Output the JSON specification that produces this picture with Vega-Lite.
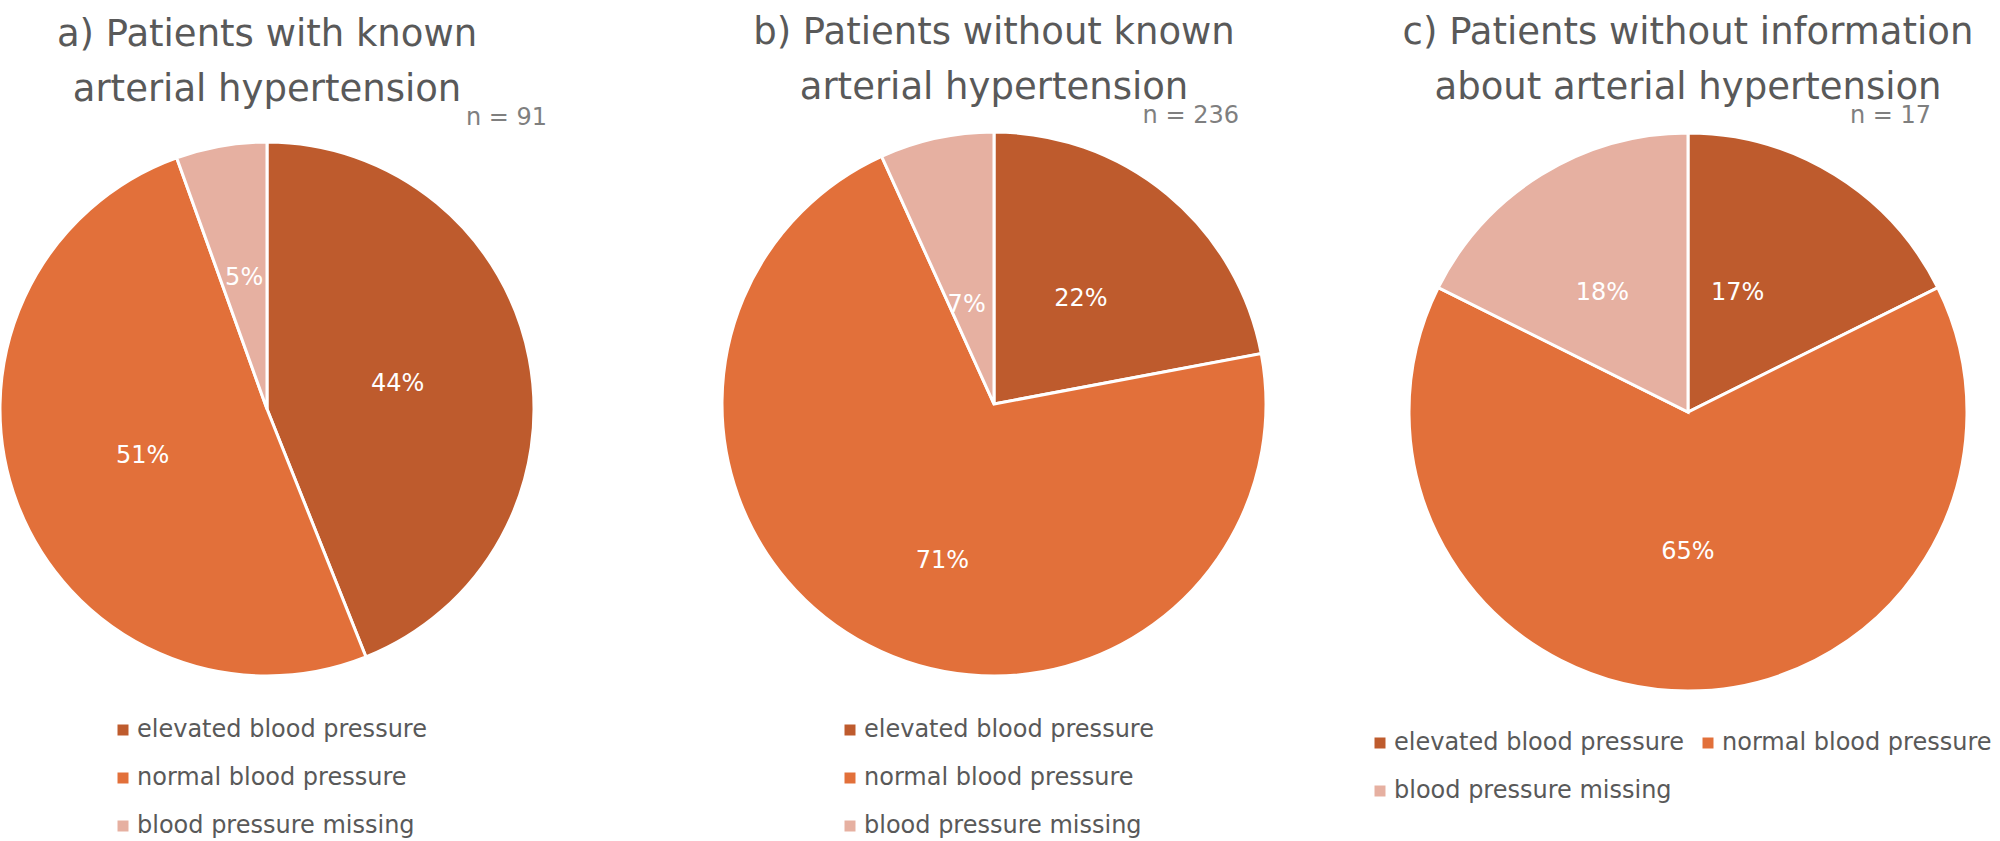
{
  "$schema": "https://vega.github.io/schema/vega-lite/v6.json",
  "background": "white",
  "padding": {"left": -6, "top": 14, "right": 0, "bottom": 0},
  "bounds": "flush",
  "spacing": 217,
  "config": {
    "view": {"stroke": null},
    "font": "DejaVu Sans",
    "title": {"font": "DejaVu Sans", "fontSize": 37, "fontWeight": "normal", "color": "#595959", "lineHeight": 55, "anchor": "middle", "offset": -3},
    "legend": {"labelFont": "DejaVu Sans", "labelFontSize": 24, "labelColor": "#595959", "symbolType": "square", "symbolSize": 121, "symbolStrokeWidth": 0, "labelOffset": 2, "rowPadding": 24, "columnPadding": 12, "padding": 0, "labelLimit": 500, "orient": "none"}
  },
  "resolve": {"scale": {"color": "independent"}, "legend": {"color": "independent"}},
  "hconcat": [
    {
      "title": {"text": ["a) Patients with known", "arterial hypertension"]},
      "width": 536,
      "height": 576,
      "layer": [
        {
          "data": {"values": [
            {"category": "elevated blood pressure", "count": 40, "label": "44%", "ord": 1},
            {"category": "normal blood pressure", "count": 46, "label": "51%", "ord": 2},
            {"category": "blood pressure missing", "count": 5, "label": "5%", "ord": 3}
          ]},
          "layer": [
            {
              "mark": {"type": "arc", "radius": 267, "stroke": "white", "strokeWidth": 3},
              "encoding": {
                "theta": {"field": "count", "type": "quantitative", "stack": true},
                "order": {"field": "ord", "type": "quantitative"},
                "color": {"field": "category", "type": "nominal",
                  "scale": {"domain": ["elevated blood pressure", "normal blood pressure", "blood pressure missing"], "range": ["#BE5B2D", "#E2703A", "#E6B0A1"]},
                  "legend": {"title": null, "legendX": 112, "legendY": 597, "direction": "vertical"}}
              }
            },
            {
              "mark": {"type": "text", "radius": 133, "fill": "white", "fontSize": 24},
              "encoding": {
                "theta": {"field": "count", "type": "quantitative", "stack": true},
                "order": {"field": "ord", "type": "quantitative"},
                "text": {"field": "label"}
              }
            }
          ]
        },
        {
          "data": {"values": [{"n": "n = 91"}]},
          "mark": {"type": "text", "align": "right", "baseline": "middle", "fontSize": 24, "fill": "#7F7F7F", "dx": 12, "dy": -3},
          "encoding": {
            "x": {"datum": 1, "type": "quantitative", "scale": {"domain": [0, 1]}, "axis": null},
            "y": {"datum": 1, "type": "quantitative", "scale": {"domain": [0, 1]}, "axis": null},
            "text": {"field": "n"}
          }
        }
      ]
    },
    {
      "title": {"text": ["b) Patients without known", "arterial hypertension"]},
      "width": 484,
      "height": 566,
      "layer": [
        {
          "data": {"values": [
            {"category": "elevated blood pressure", "count": 52, "label": "22%", "ord": 1},
            {"category": "normal blood pressure", "count": 168, "label": "71%", "ord": 2},
            {"category": "blood pressure missing", "count": 16, "label": "7%", "ord": 3}
          ]},
          "layer": [
            {
              "mark": {"type": "arc", "radius": 272, "stroke": "white", "strokeWidth": 3},
              "encoding": {
                "theta": {"field": "count", "type": "quantitative", "stack": true},
                "order": {"field": "ord", "type": "quantitative"},
                "color": {"field": "category", "type": "nominal",
                  "scale": {"domain": ["elevated blood pressure", "normal blood pressure", "blood pressure missing"], "range": ["#BE5B2D", "#E2703A", "#E6B0A1"]},
                  "legend": {"title": null, "legendX": 86, "legendY": 597, "direction": "vertical"}}
              }
            },
            {
              "mark": {"type": "text", "radius": 136, "fill": "white", "fontSize": 24},
              "encoding": {
                "theta": {"field": "count", "type": "quantitative", "stack": true},
                "order": {"field": "ord", "type": "quantitative"},
                "text": {"condition": {"test": "datum.ord === 1", "field": "label"}, "value": ""}
              }
            },
            {
              "mark": {"type": "text", "radius": 166, "fill": "white", "fontSize": 24, "dx": 25, "dy": 10},
              "encoding": {
                "theta": {"field": "count", "type": "quantitative", "stack": true},
                "order": {"field": "ord", "type": "quantitative"},
                "text": {"condition": {"test": "datum.ord === 2", "field": "label"}, "value": ""}
              }
            },
            {
              "mark": {"type": "text", "radius": 101, "fill": "white", "fontSize": 24, "dx": -6},
              "encoding": {
                "theta": {"field": "count", "type": "quantitative", "stack": true},
                "order": {"field": "ord", "type": "quantitative"},
                "text": {"condition": {"test": "datum.ord === 3", "field": "label"}, "value": ""}
              }
            }
          ]
        },
        {
          "data": {"values": [{"n": "n = 236"}]},
          "mark": {"type": "text", "align": "right", "baseline": "middle", "fontSize": 24, "fill": "#7F7F7F", "dx": 3, "dy": -5},
          "encoding": {
            "x": {"datum": 1, "type": "quantitative", "scale": {"domain": [0, 1]}, "axis": null},
            "y": {"datum": 1, "type": "quantitative", "scale": {"domain": [0, 1]}, "axis": null},
            "text": {"field": "n"}
          }
        }
      ]
    },
    {
      "title": {"text": ["c) Patients without information", "about arterial hypertension"]},
      "width": 470,
      "height": 582,
      "layer": [
        {
          "data": {"values": [
            {"category": "elevated blood pressure", "count": 3, "label": "17%", "ord": 1},
            {"category": "normal blood pressure", "count": 11, "label": "65%", "ord": 2},
            {"category": "blood pressure missing", "count": 3, "label": "18%", "ord": 3}
          ]},
          "layer": [
            {
              "mark": {"type": "arc", "radius": 279, "stroke": "white", "strokeWidth": 3},
              "encoding": {
                "theta": {"field": "count", "type": "quantitative", "stack": true},
                "order": {"field": "ord", "type": "quantitative"},
                "color": {"field": "category", "type": "nominal",
                  "scale": {"domain": ["elevated blood pressure", "normal blood pressure", "blood pressure missing"], "range": ["#BE5B2D", "#E2703A", "#E6B0A1"]},
                  "legend": {"title": null, "legendX": -85, "legendY": 610, "direction": "horizontal", "columns": 2}}
              }
            },
            {
              "mark": {"type": "text", "radius": 140, "fill": "white", "fontSize": 24, "dx": -24},
              "encoding": {
                "theta": {"field": "count", "type": "quantitative", "stack": true},
                "order": {"field": "ord", "type": "quantitative"},
                "text": {"condition": {"test": "datum.ord === 1", "field": "label"}, "value": ""}
              }
            },
            {
              "mark": {"type": "text", "radius": 140, "fill": "white", "fontSize": 24},
              "encoding": {
                "theta": {"field": "count", "type": "quantitative", "stack": true},
                "order": {"field": "ord", "type": "quantitative"},
                "text": {"condition": {"test": "datum.ord === 2", "field": "label"}, "value": ""}
              }
            },
            {
              "mark": {"type": "text", "radius": 140, "fill": "white", "fontSize": 24, "dx": -12},
              "encoding": {
                "theta": {"field": "count", "type": "quantitative", "stack": true},
                "order": {"field": "ord", "type": "quantitative"},
                "text": {"condition": {"test": "datum.ord === 3", "field": "label"}, "value": ""}
              }
            }
          ]
        },
        {
          "data": {"values": [{"n": "n = 17"}]},
          "mark": {"type": "text", "align": "right", "baseline": "middle", "fontSize": 24, "fill": "#7F7F7F", "dx": 8, "dy": -5},
          "encoding": {
            "x": {"datum": 1, "type": "quantitative", "scale": {"domain": [0, 1]}, "axis": null},
            "y": {"datum": 1, "type": "quantitative", "scale": {"domain": [0, 1]}, "axis": null},
            "text": {"field": "n"}
          }
        }
      ]
    }
  ]
}
